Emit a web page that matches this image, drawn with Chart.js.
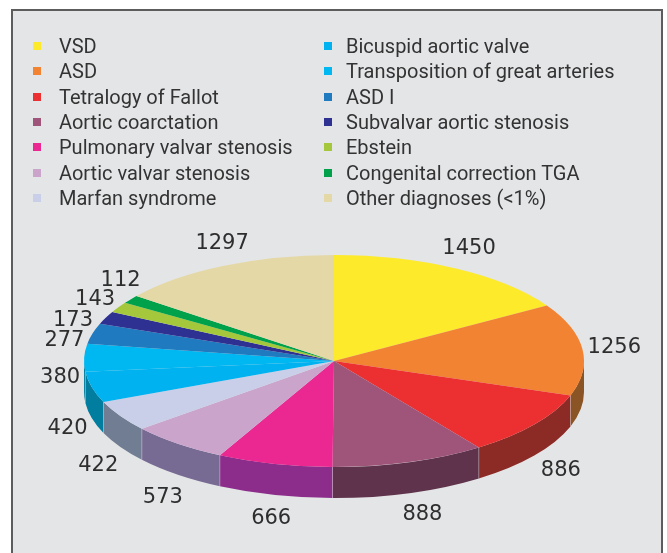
<!DOCTYPE html>
<html>
<head>
<meta charset="utf-8">
<script src="https://cdn.jsdelivr.net/npm/chart.js@4"></script>
<style>
  html, body { margin: 0; padding: 0; background: #fff; }
  #page { position: relative; width: 667px; height: 553px; overflow: hidden; }
  #panel { position: absolute; left: 11px; top: 9px; width: 648px; height: 560px; background: #e4e5e7; border: 2px solid #5c5c5c; }
  #chart { position: absolute; left: 0; top: 0; }
  .item { position: absolute; font: 20px Roboto, sans-serif; color: #333; line-height: 22px; white-space: nowrap; }
  .mark { position: absolute; width: 8px; height: 8px; }
</style>
</head>
<body>
<div id="page">
  <div id="panel"></div>
  <canvas id="chart" width="667" height="553"></canvas>
  <div id="legend"></div>
</div>
<script>
const diagnoses = ["VSD", "ASD", "Tetralogy of Fallot", "Aortic coarctation", "Pulmonary valvar stenosis",
  "Aortic valvar stenosis", "Marfan syndrome", "Bicuspid aortic valve", "Transposition of great arteries",
  "ASD I", "Subvalvar aortic stenosis", "Ebstein", "Congenital correction TGA", "Other diagnoses (<1%)"];
const patients = [1450, 1256, 886, 888, 666, 573, 422, 420, 380, 277, 173, 143, 112, 1297];
const topColors = ["#fdeb2b", "#f28332", "#ec2f30", "#9f5479", "#eb2891", "#cba4cc", "#c9cfe8",
  "#00b2ef", "#00b8f1", "#1f7abf", "#2e3192", "#a4c73c", "#00a14b", "#e4d8a6"];
const sideColors = ["#8a5a20", "#8a5424", "#8c2a25", "#5f334b", "#8c2d8b", "#776a93", "#707d92",
  "#007d9f", "#007d9f", "#1f7abf", "#2e3192", "#a4c73c", "#00a14b", "#e4d8a6"];

// hand adjustments for the value labels, dx/dy from the computed spot
const labelNudge = [[0, 4], [5, 1], [5, -1], [5, -4], [3, -3], [2, 2], [1, 4],
  [2, 4], [3, 21], [-2, 14], [-8, 14], [0, 6], [12, -3], [10, 2]];

const CENTER_Y = 361;
const TILT = 0.424;
const DEPTH = 31;
const LABEL_GAP = 27;

const tiltPlugin = {
  id: "tilt",
  beforeDatasetDraw(chart, args) {
    const ctx = chart.ctx;
    const arcs = args.meta.data;
    const cx = arcs[0].x;
    const cy = arcs[0].y;
    const r = arcs[0].outerRadius;
    const ry = r * TILT;

    // side wall, only the part of the rim facing us
    arcs.forEach((arc, i) => {
      const a0 = Math.max(arc.startAngle, 0);
      const a1 = Math.min(arc.endAngle, Math.PI);
      if (a1 <= a0) return;
      ctx.beginPath();
      ctx.ellipse(cx, CENTER_Y, r, ry, 0, a0, a1);
      ctx.ellipse(cx, CENTER_Y + DEPTH, r, ry, 0, a1, a0, true);
      ctx.closePath();
      ctx.fillStyle = sideColors[i];
      ctx.fill();
    });
    ctx.strokeStyle = "rgba(255,255,255,0.3)";
    ctx.lineWidth = 1;
    arcs.forEach((arc) => {
      const a = arc.endAngle;
      if (a <= 0 || a >= Math.PI) return;
      const x = cx + r * Math.cos(a);
      const y = CENTER_Y + ry * Math.sin(a);
      ctx.beginPath();
      ctx.moveTo(x, y);
      ctx.lineTo(x, y + DEPTH);
      ctx.stroke();
    });

    ctx.save();
    ctx.translate(cx, CENTER_Y);
    ctx.scale(1, TILT);
    ctx.translate(-cx, -cy);
  },
  afterDatasetDraw(chart) {
    chart.ctx.restore();
  },
  afterDraw(chart) {
    const ctx = chart.ctx;
    const arcs = chart.getDatasetMeta(0).data;
    ctx.save();
    ctx.font = "21px 'DejaVu Sans'";
    ctx.fillStyle = "#2e2e2e";
    ctx.textAlign = "center";
    ctx.textBaseline = "middle";
    arcs.forEach((arc, i) => {
      const mid = (arc.startAngle + arc.endAngle) / 2;
      const sin = Math.sin(mid);
      const x = arc.x + (arc.outerRadius + LABEL_GAP) * Math.cos(mid);
      const y = CENTER_Y + (arc.outerRadius * TILT + LABEL_GAP) * sin + (sin > 0 ? DEPTH : 0);
      ctx.fillText(String(patients[i]), x + labelNudge[i][0], y + labelNudge[i][1]);
    });
    ctx.restore();
  }
};

new Chart(document.getElementById("chart"), {
  type: "pie",
  data: {
    labels: diagnoses,
    datasets: [{
      data: patients,
      backgroundColor: topColors,
      borderWidth: 0,
      clip: false
    }]
  },
  options: {
    responsive: false,
    animation: false,
    layout: { padding: { left: 84, right: 83, top: 26, bottom: 27 } },
    plugins: { legend: { display: false }, tooltip: { enabled: false } }
  },
  plugins: [tiltPlugin]
});

// two column legend, filled top to bottom
const legend = document.getElementById("legend");
diagnoses.forEach((name, i) => {
  const col = i < 7 ? 0 : 1;
  const row = col ? i - 7 : i;
  const mid = 46 + row * 25.3;
  const mark = document.createElement("div");
  mark.className = "mark";
  mark.style.left = (col ? 324 : 33) + "px";
  mark.style.top = (mid - 4) + "px";
  mark.style.background = topColors[i];
  const text = document.createElement("div");
  text.className = "item";
  text.style.left = (col ? 346 : 59) + "px";
  text.style.top = (mid - 11) + "px";
  text.textContent = name;
  legend.appendChild(mark);
  legend.appendChild(text);
});
</script>
</body>
</html>
